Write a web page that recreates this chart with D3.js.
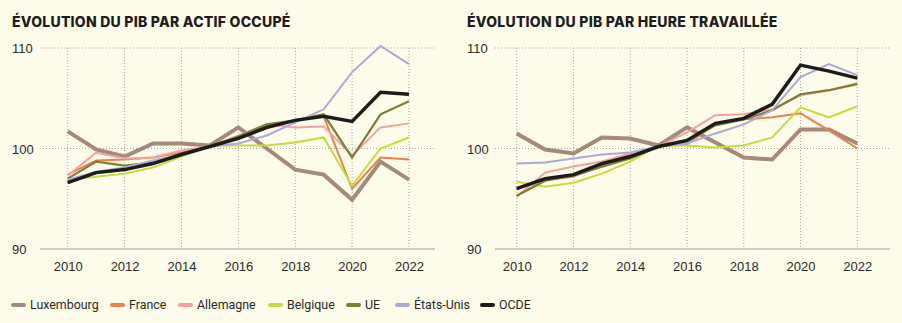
<!DOCTYPE html>
<html>
<head>
<meta charset="utf-8">
<style>
  html, body { margin: 0; padding: 0; background: #fdfbe9; }
  svg { display: block; font-family: Inter, "Liberation Sans", sans-serif; }
  .title { font-weight: 800; font-size: 14px; fill: #1d1d1b; letter-spacing: 0.25px; }
  .tick text { font-size: 13px; fill: #2a2a28; font-weight: 500; }
  .legend text { font-family: Roboto, sans-serif; font-size: 12.4px; fill: #2a2a28; }
</style>
</head>
<body>
<svg width="902" height="323"></svg>
<script src="https://d3js.org/d3.v7.min.js"></script>
<script>
var years = d3.range(2010, 2023);
var yTicks = [90, 100, 110];
var xTicks = [2010, 2012, 2014, 2016, 2018, 2020, 2022];

var seriesNames = ["Luxembourg", "France", "Allemagne", "Belgique", "UE", "États-Unis", "OCDE"];
var colors = ["#a38a7a", "#f07f4e", "#f2a3a0", "#c6dc3c", "#7b7e33", "#a9aad8", "#1c1c1a"];
var widths = [4, 2, 2, 2, 2.2, 2, 3.5];

// PIB par actif occupé (base 100 = 2015)
var actifLux = [101.7, 99.9, 99.2, 100.5, 100.5, 100.3, 102.1, 100.0, 97.9, 97.4, 94.9, 98.7, 96.9];
var actifFra = [97.4, 98.8, 98.9, 99.1, 99.6, 100.2, 101.0, 102.0, 102.8, 103.2, 96.0, 99.1, 98.9];
var actifAll = [97.3, 99.6, 99.0, 99.1, 99.8, 100.2, 101.3, 102.4, 102.1, 102.2, 99.3, 102.1, 102.5];
var actifBel = [96.9, 97.2, 97.5, 98.1, 99.2, 100.3, 100.3, 100.3, 100.6, 101.1, 96.3, 100.0, 101.1];
var actifUE  = [97.0, 98.7, 98.3, 98.6, 99.5, 100.2, 101.2, 102.4, 102.8, 103.4, 99.1, 103.4, 104.7];
var actifUSA = [96.9, 97.7, 98.1, 98.8, 99.4, 100.2, 100.5, 101.3, 102.6, 103.9, 107.6, 110.2, 108.4];
var actifOCDE = [96.6, 97.6, 97.9, 98.5, 99.4, 100.2, 101.0, 102.1, 102.8, 103.2, 102.7, 105.6, 105.4];

// PIB par heure travaillée (base 100 = 2015)
var heureLux = [101.5, 99.9, 99.5, 101.1, 101.0, 100.3, 102.1, 100.6, 99.1, 98.9, 101.9, 101.9, 100.5];
var heureFra = [96.0, 96.9, 97.2, 98.3, 99.4, 100.2, 100.4, 102.5, 102.9, 103.1, 103.5, 101.8, 100.0];
var heureAll = [95.2, 97.6, 98.2, 98.7, 99.5, 100.2, 101.6, 103.3, 103.4, 103.9, 105.3, 105.8, 106.5];
var heureBel = [96.7, 96.2, 96.6, 97.5, 98.7, 100.3, 100.3, 100.1, 100.3, 101.1, 104.1, 103.1, 104.2];
var heureUE  = [95.3, 96.8, 97.3, 98.2, 99.0, 100.2, 100.7, 102.3, 102.9, 103.8, 105.4, 105.8, 106.4];
var heureUSA = [98.5, 98.6, 99.0, 99.4, 99.6, 100.2, 100.5, 101.5, 102.4, 103.8, 107.1, 108.4, 107.3];
var heureOCDE = [96.0, 97.0, 97.4, 98.5, 99.2, 100.2, 100.8, 102.5, 103.0, 104.4, 108.3, 107.7, 107.0];

var panels = [
  { title: "ÉVOLUTION DU PIB PAR ACTIF OCCUPÉ", left: 40, right: 435, x0: 67.7, x1: 409,
    data: [actifLux, actifFra, actifAll, actifBel, actifUE, actifUSA, actifOCDE] },
  { title: "ÉVOLUTION DU PIB PAR HEURE TRAVAILLÉE", left: 495, right: 890, x0: 516.7, x1: 857.3,
    data: [heureLux, heureFra, heureAll, heureBel, heureUE, heureUSA, heureOCDE] }
];

var svg = d3.select("svg");

var y = d3.scaleLinear().domain([90, 110]).range([249, 48]);

panels.forEach(function(p, pi) {
  var g = svg.append("g");
  var x = d3.scaleLinear().domain([2010, 2022]).range([p.x0, p.x1]);

  g.append("text")
    .attr("class", "title")
    .attr("x", pi === 0 ? 12 : 467)
    .attr("y", 27)
    .text(p.title);

  // horizontal gridlines
  g.selectAll(".hgrid")
    .data(yTicks)
    .enter().append("line")
    .attr("x1", p.left).attr("x2", p.right)
    .attr("y1", function(d) { return y(d); })
    .attr("y2", function(d) { return y(d); })
    .attr("stroke", d => d === 90 ? "#9a9a94" : "#a8a8a0")
    .attr("stroke-width", d => d === 90 ? 1.2 : 1)
    .attr("stroke-dasharray", d => d === 90 ? null : "1,2");

  // vertical gridlines
  g.selectAll(".vgrid")
    .data(xTicks)
    .enter().append("line")
    .attr("x1", d => x(d)).attr("x2", d => x(d))
    .attr("y1", y(110)).attr("y2", y(90))
    .attr("stroke", "#a8a8a0")
    .attr("stroke-dasharray", "1,2");

  // y labels
  g.append("g")
    .attr("transform", "translate(" + (pi === 0 ? 12 : 467) + ",0)")
    .call(d3.axisRight(y).tickValues(yTicks).tickSize(0).tickPadding(0))
    .call(a => a.select(".domain").remove())
    .selectAll("text").attr("dy", "0.35em");

  // x labels
  g.append("g")
    .attr("transform", "translate(0," + y(90) + ")")
    .call(d3.axisBottom(x).tickValues(xTicks).tickFormat(d3.format("d")).tickSize(0).tickPadding(13))
    .call(a => a.select(".domain").remove())
    .selectAll("text").attr("font-weight", 600);

  var line = d3.line()
    .x(function(d, i) { return x(years[i]); })
    .y(function(d) { return y(d); });

  g.selectAll(".series")
    .data(p.data)
    .enter().append("path")
    .attr("fill", "none")
    .attr("stroke", (d, i) => colors[i])
    .attr("stroke-width", (d, i) => widths[i])
    .attr("stroke-linejoin", "miter")
    .attr("d", line);
});

// legend
var legendX = [11, 110, 178, 268, 346, 395, 480];
var legend = svg.append("g").attr("class", "legend");
var items = legend.selectAll("g")
  .data(seriesNames)
  .enter().append("g")
  .attr("transform", (d, i) => "translate(" + legendX[i] + ",305)");
items.append("line")
  .attr("x1", 2).attr("x2", 13)
  .attr("stroke", (d, i) => colors[i])
  .attr("stroke-width", 4)
  .attr("stroke-linecap", "round");
items.append("text")
  .attr("x", 19)
  .attr("dy", "0.35em")
  .text(d => d);
</script>
</body>
</html>
